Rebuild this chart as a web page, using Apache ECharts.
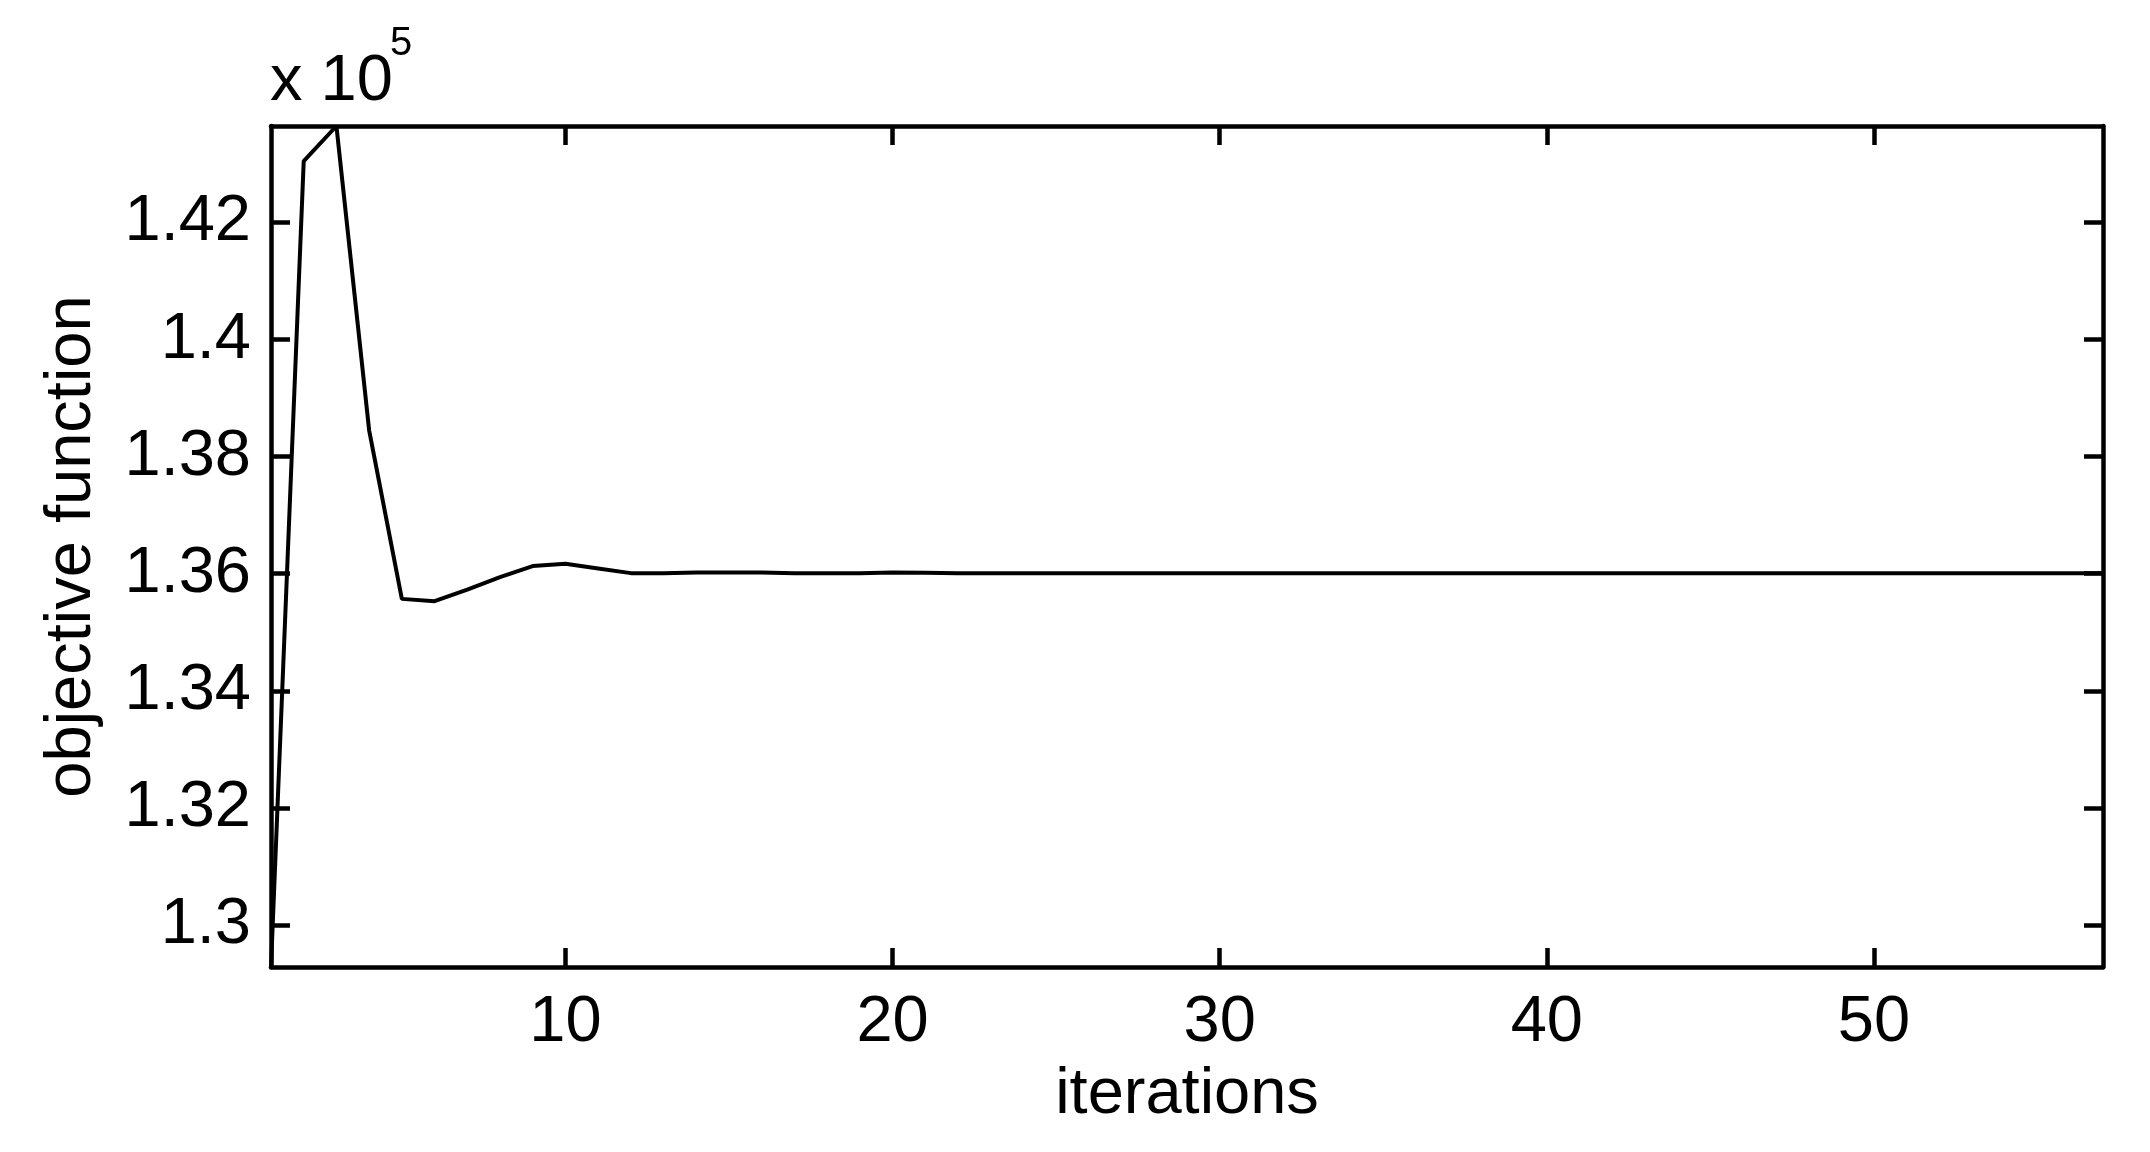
<!DOCTYPE html>
<html>
<head>
<meta charset="utf-8">
<script src="https://cdn.jsdelivr.net/npm/echarts@6/dist/echarts.min.js"></script>
<style>
html,body{margin:0;padding:0;background:#fff;}
#chart{width:2150px;height:1152px;}
</style>
</head>
<body>
<div id="chart"></div>
<script>
// iterations 1..57
var iterations = [];
for (var i = 1; i <= 57; i++) iterations.push(i);
var objectiveValues = [
  129280, 143050, 143650, 138450, 135570, 135530, 135730, 135940, 136130, 136170,
  136090, 136010, 136010, 136020, 136020, 136020, 136010, 136010, 136010, 136020,
  136015, 136010, 136010, 136010, 136010, 136010, 136010, 136010, 136010, 136010,
  136010, 136010, 136010, 136010, 136010, 136010, 136010, 136010, 136010, 136010,
  136010, 136010, 136010, 136010, 136010, 136010, 136010, 136010, 136010, 136010,
  136010, 136010, 136010, 136010, 136010, 136010, 136010
];
var xTicks = [10, 20, 30, 40, 50];
var yTicks = [130000, 132000, 134000, 136000, 138000, 140000, 142000];
var xLabelText = 'iterations';
var yLabelText = 'objective function';
var exponentText = 'x 10';
var exponentSup = '5';

var yMin = Math.min.apply(null, objectiveValues);
var yMax = Math.max.apply(null, objectiveValues);
var xMin = iterations[0], xMax = iterations[iterations.length - 1];

var font = 'Liberation Sans, Arial, Helvetica, sans-serif';
var lineStyle = {color: '#000', width: 4.5};
var tickStyle = {color: '#000', width: 4.5};

var chart = echarts.init(document.getElementById('chart'));
chart.setOption({
  backgroundColor: '#fff',
  animation: false,
  grid: {left: 271, right: 47, top: 126, bottom: 185},
  graphic: [
    {type: 'text', left: 270, top: 50, style: {text: exponentText, font: '65px ' + font, fill: '#000'}},
    {type: 'text', left: 390, top: 24, style: {text: exponentSup, font: '40px ' + font, fill: '#000'}}
  ],
  xAxis: [{
    type: 'value', min: xMin, max: xMax, position: 'bottom',
    name: xLabelText, nameLocation: 'middle', nameGap: 96,
    nameTextStyle: {fontFamily: font, fontSize: 65, color: '#000'},
    axisLine: {show: true, lineStyle: lineStyle},
    axisTick: {show: true, inside: true, length: 19, lineStyle: tickStyle, customValues: xTicks},
    axisLabel: {show: true, inside: false, margin: 24, fontFamily: font, fontSize: 65, color: '#000', customValues: xTicks},
    splitLine: {show: false}
  }, {
    type: 'value', min: xMin, max: xMax, position: 'top',
    axisLine: {show: true, lineStyle: lineStyle},
    axisTick: {show: true, inside: true, length: 19, lineStyle: tickStyle, customValues: xTicks},
    axisLabel: {show: false},
    splitLine: {show: false}
  }],
  yAxis: [{
    type: 'value', min: yMin, max: yMax, position: 'left',
    name: yLabelText, nameLocation: 'middle', nameGap: 166, nameRotate: 90,
    nameTextStyle: {fontFamily: font, fontSize: 65, color: '#000'},
    axisLine: {show: true, lineStyle: lineStyle},
    axisTick: {show: true, inside: true, length: 19, lineStyle: tickStyle, customValues: yTicks},
    axisLabel: {show: true, margin: 20, fontFamily: font, fontSize: 65, color: '#000', customValues: yTicks,
      formatter: function (v) { return String(+(v / 1e5).toFixed(2)); }},
    splitLine: {show: false}
  }, {
    type: 'value', min: yMin, max: yMax, position: 'right',
    axisLine: {show: true, lineStyle: lineStyle},
    axisTick: {show: true, inside: true, length: 19, lineStyle: tickStyle, customValues: yTicks},
    axisLabel: {show: false},
    splitLine: {show: false}
  }],
  series: [{
    type: 'line',
    xAxisIndex: 0, yAxisIndex: 0,
    data: iterations.map(function (x, k) { return [x, objectiveValues[k]]; }),
    showSymbol: false,
    lineStyle: {color: '#000', width: 4},
    clip: true
  }]
});
</script>
</body>
</html>
